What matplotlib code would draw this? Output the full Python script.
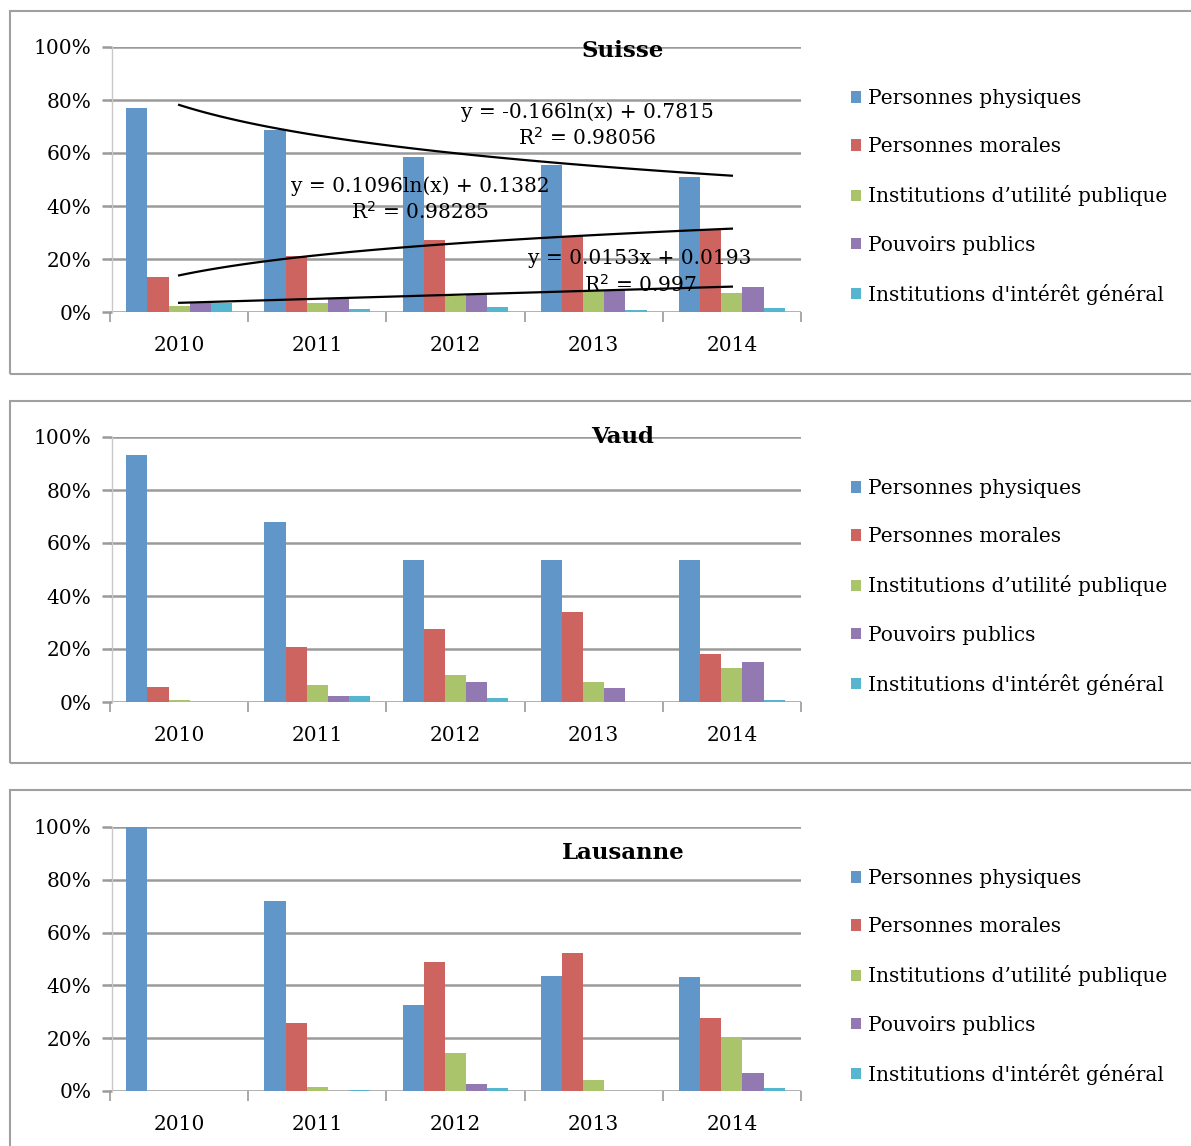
import matplotlib
matplotlib.use("Agg")
import matplotlib.pyplot as plt
from matplotlib.patches import Rectangle, Patch
from matplotlib.ticker import FixedLocator
import numpy as np

plt.rcParams['font.family'] = ['DejaVu Serif']

years = ["2010", "2011", "2012", "2013", "2014"]
series = ["Personnes physiques", "Personnes morales", "Institutions d\u2019utilit\u00e9 publique",
          "Pouvoirs publics", "Institutions d'int\u00e9r\u00eat g\u00e9n\u00e9ral"]
colors = ["#6196C9", "#CD6460", "#A9C46A", "#9279B2", "#56B6CF"]

# shares per year, one list per series
suisse = [
    [0.769, 0.688, 0.584, 0.556, 0.510],
    [0.132, 0.212, 0.273, 0.286, 0.311],
    [0.024, 0.034, 0.059, 0.078, 0.070],
    [0.034, 0.049, 0.065, 0.084, 0.096],
    [0.034, 0.012, 0.017, 0.006, 0.014],
]
vaud = [
    [0.931, 0.679, 0.534, 0.534, 0.534],
    [0.058, 0.209, 0.274, 0.338, 0.180],
    [0.007, 0.064, 0.101, 0.074, 0.128],
    [0.000, 0.021, 0.075, 0.051, 0.150],
    [0.000, 0.024, 0.015, 0.000, 0.007],
]
lausanne = [
    [1.000, 0.720, 0.325, 0.436, 0.430],
    [0.000, 0.257, 0.487, 0.522, 0.275],
    [0.000, 0.015, 0.143, 0.040, 0.206],
    [0.000, 0.000, 0.026, 0.000, 0.070],
    [0.000, 0.004, 0.013, 0.000, 0.011],
]

# trendlines shown on the Suisse chart (coefficients as printed)
trend_log_pp = (-0.166, 0.7815, "0.98056")
trend_log_pm = (0.1096, 0.1382, "0.98285")
trend_lin_pub = (0.0153, 0.0193, "0.997")

W, H = 1191, 1146
fig = plt.figure(figsize=(W / 100, H / 100), dpi=100)

panels = [
    ("Suisse", suisse, 47, 312, 11, 374, 51),
    ("Vaud", vaud, 437, 702, 401, 763, 437),
    ("Lausanne", lausanne, 827, 1091, 790, 1160, 853),
]

grid_c = "#9a9a9a"
fs = 14.5
bw = 0.153
x = np.arange(len(years))

axes = []
for title, data, ytop, ybot, btop, bbot, ty in panels:
    fig.patches.append(Rectangle((10 / W, 1 - bbot / H), (W + 20 - 10) / W, (bbot - btop) / H,
                                 transform=fig.transFigure, fill=False, edgecolor="#a0a0a0", lw=1.5))
    ax = fig.add_axes([110 / W, 1 - ybot / H, (801 - 110) / W, (ybot - ytop) / H])
    for i, vals in enumerate(data):
        ax.bar(x + (i - 2) * bw, vals, width=bw, color=colors[i], zorder=3)
    ax.set_xlim(-0.5, 4.5)
    ax.set_ylim(0, 1)
    ax.set_yticks(np.arange(0, 1.01, 0.2))
    ax.set_yticklabels([f"{int(round(v * 100))}%" for v in np.arange(0, 1.01, 0.2)])
    ax.yaxis.grid(True, color=grid_c, lw=1.8, zorder=0)
    ax.set_xticks(x)
    ax.set_xticklabels(years)
    ax.xaxis.set_minor_locator(FixedLocator(np.arange(-0.5, 5, 1)))
    ax.tick_params(axis="x", which="major", length=0, pad=17, labelsize=fs)
    ax.tick_params(axis="x", which="minor", length=7, color=grid_c, width=1.2)
    ax.tick_params(axis="y", length=7, color=grid_c, width=1.8, pad=8, labelsize=fs)
    for s in ["top", "right", "bottom"]:
        ax.spines[s].set_visible(False)
    ax.spines["left"].set_color("#c8c8c8")
    ax.spines["left"].set_linewidth(1.0)
    ax.spines["left"].set_position(("data", -0.485))
    fig.text(623 / W, 1 - ty / H, title, ha="center", va="center", fontsize=16.5, fontweight="bold")
    handles = [Patch(facecolor=c) for c in colors]
    fig.legend(handles, series, loc="upper left", bbox_to_anchor=(843 / W, 1 - (ytop + 34) / H),
               frameon=False, fontsize=fs, handlelength=0.5, handleheight=0.5,
               handletextpad=0.35, labelspacing=1.45, borderaxespad=0)
    axes.append(ax)

# trendlines on Suisse
ax = axes[0]
xt = np.linspace(1, 5, 100)
a, b, r = trend_log_pp
ax.plot(xt - 1, a * np.log(xt) + b, color="black", lw=1.6, zorder=4)
a2, b2, r2 = trend_log_pm
ax.plot(xt - 1, a2 * np.log(xt) + b2, color="black", lw=1.6, zorder=4)
a3, b3, r3 = trend_lin_pub
ax.plot(xt - 1, a3 * xt + b3, color="black", lw=1.6, zorder=4)

def eq_text(xp, yp, s):
    fig.text(xp / W, 1 - yp / H, s, ha="center", va="center", fontsize=fs, zorder=5)

eq_text(587, 112, f"y = {a}ln(x) + {b}")
eq_text(587, 138, f"R$^2$ = {r}")
eq_text(420, 186, f"y = {a2}ln(x) + {b2}")
eq_text(420, 212, f"R$^2$ = {r2}")
eq_text(640, 258, f"y = {a3}x + {b3}")
eq_text(640, 285, f"R$^2$ = {r3}")

fig.savefig("out.png", dpi=100)
